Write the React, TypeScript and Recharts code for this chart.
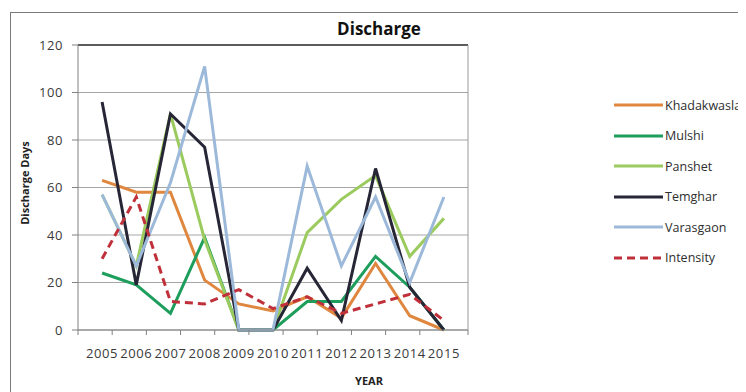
import React from 'react';
import { LineChart, Line, XAxis, YAxis, CartesianGrid, Legend, ReferenceLine } from 'recharts';

const YEARS = ['2005', '2006', '2007', '2008', '2009', '2010', '2011', '2012', '2013', '2014', '2015'];
const KHADAKWASLA = [63, 58, 58, 21, 11, 8, 14, 5, 28, 6, 0];
const MULSHI = [24, 19, 7, 39, 0, 0, 12, 12, 31, 18, 0];
const PANSHET = [57, 27, 91, 38, 0, 0, 41, 55, 65, 31, 47];
const TEMGHAR = [96, 19, 91, 77, 0, 0, 26, 4, 68, 18, 0];
const VARASGAON = [57, 27, 62, 111, 0, 0, 69, 27, 56, 20, 56];
const INTENSITY = [30, 56, 12, 11, 17, 9, 14, 7, 11, 15, 4];
const Y_TICKS = [0, 20, 40, 60, 80, 100, 120];

const SERIES = [
  { key: 'Khadakwasla', values: KHADAKWASLA, color: '#E0873F', dash: undefined },
  { key: 'Mulshi', values: MULSHI, color: '#1E9E5C', dash: undefined },
  { key: 'Panshet', values: PANSHET, color: '#9BCB5E', dash: undefined },
  { key: 'Temghar', values: TEMGHAR, color: '#262636', dash: undefined },
  { key: 'Varasgaon', values: VARASGAON, color: '#9DB9DA', dash: undefined },
  { key: 'Intensity', values: INTENSITY, color: '#C0303A', dash: '8 5' },
];

const data = YEARS.map((year, i) => {
  const row: Record<string, string | number> = { year };
  SERIES.forEach((s) => {
    row[s.key] = s.values[i];
  });
  return row;
});

const W = 746;
const H = 392;
const MARGIN = { top: 45, right: 138, bottom: 0, left: 0 };
const Y_AXIS_W = 78;
const X_AXIS_H = 62;
const PLOT_W = W - MARGIN.left - MARGIN.right - Y_AXIS_W;
const BAND = PLOT_W / YEARS.length;
const FONT = "'Open Sans', sans-serif";
const LAST_YEAR = YEARS[YEARS.length - 1];

// Category ticks sit between years; the last one also closes the plot frame on the right.
const XTick = (props: any) => {
  const { x, y, payload } = props;
  const isLast = String(payload.value) === LAST_YEAR;
  return (
    <g>
      <line x1={x - BAND / 2} x2={x - BAND / 2} y1={y} y2={y + 5} stroke="#808080" />
      {isLast && <line x1={x + BAND / 2} x2={x + BAND / 2} y1={y} y2={y + 5} stroke="#808080" />}
      {isLast && <line x1={x + BAND / 2} x2={x + BAND / 2} y1={MARGIN.top} y2={y} stroke="#999" />}
      <text x={x} y={y + 28} textAnchor="middle" fontSize={13} fill="#3A3A3A" fontFamily={FONT} letterSpacing={0.6}>
        {payload.value}
      </text>
    </g>
  );
};

const LegendBox = () => (
  <div style={{ fontFamily: FONT, fontSize: 12.5, color: '#2E2E2E' }}>
    {SERIES.map((s) => (
      <div key={s.key} style={{ display: 'flex', alignItems: 'center', height: 30.5 }}>
        <svg width={49} height={6} style={{ display: 'block' }}>
          <line x1={0} x2={49} y1={3} y2={3} stroke={s.color} strokeWidth={3} strokeDasharray={s.dash} />
        </svg>
        <span style={{ marginLeft: 2, whiteSpace: 'nowrap' }}>{s.key}</span>
      </div>
    ))}
  </div>
);

export default function App() {
  return (
    <div style={{ position: 'relative', margin: '-8px 0 0 -8px', width: W, height: H, overflow: 'hidden', background: '#fff' }}>
      <div style={{ position: 'absolute', left: 0, top: 0 }}>
        <LineChart width={W} height={H} data={data} margin={MARGIN}>
          <CartesianGrid vertical={false} stroke="#A6A6A6" />
          <XAxis
            dataKey="year"
            height={X_AXIS_H}
            padding={{ left: BAND / 2, right: BAND / 2 }}
            interval={0}
            tickSize={0}
            tickMargin={0}
            tick={<XTick />}
            stroke="#808080"
            label={{
              content: () => (
                <text x={369} y={385} textAnchor="middle" fontFamily={FONT} fontWeight={700} fontSize={11} fill="#222">
                  YEAR
                </text>
              ),
            }}
          />
          <YAxis
            width={Y_AXIS_W}
            domain={[0, 120]}
            ticks={Y_TICKS}
            interval={0}
            tickSize={6}
            tickMargin={9}
            stroke="#808080"
            tick={{ fontSize: 13, fill: '#3A3A3A', fontFamily: FONT, letterSpacing: 0.6 }}
            label={{
              content: () => (
                <text
                  x={29}
                  y={183}
                  textAnchor="middle"
                  fontFamily={FONT}
                  fontWeight={700}
                  fontSize={11}
                  fill="#222"
                  transform="rotate(-90 29 183)"
                >
                  Discharge Days
                </text>
              ),
            }}
          />
          <ReferenceLine y={120} stroke="#333" strokeWidth={1.5} />
          {SERIES.map((s) => (
            <Line
              key={s.key}
              dataKey={s.key}
              stroke={s.color}
              strokeWidth={3}
              strokeDasharray={s.dash}
              dot={false}
              activeDot={false}
              isAnimationActive={false}
            />
          ))}
          <Legend
            layout="vertical"
            verticalAlign="top"
            align="right"
            content={<LegendBox />}
            wrapperStyle={{ position: 'absolute', left: 614, top: 90, width: 140 }}
          />
        </LineChart>
      </div>
      <div
        style={{
          position: 'absolute',
          left: 0,
          width: 758,
          top: 17,
          textAlign: 'center',
          fontFamily: FONT,
          fontWeight: 700,
          fontSize: 17,
          color: '#111',
        }}
      >
        Discharge
      </div>
      <div
        style={{
          position: 'absolute',
          left: 10,
          top: 12,
          width: 800,
          height: 500,
          borderLeft: '1px solid #7A7A7A',
          borderTop: '1px solid #7A7A7A',
          boxSizing: 'border-box',
          pointerEvents: 'none',
        }}
      />
    </div>
  );
}
